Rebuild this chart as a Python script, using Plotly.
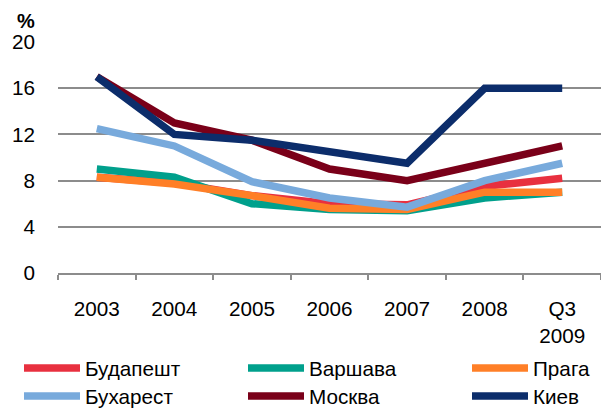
import plotly.graph_objects as go

years = ['2003', '2004', '2005', '2006', '2007', '2008', 'Q3<br>2009']

budapest = [8.3, 7.8, 6.7, 6.0, 5.9, 7.5, 8.2]
warsaw = [9.0, 8.3, 6.0, 5.5, 5.4, 6.5, 7.0]
prague = [8.3, 7.7, 6.7, 5.6, 5.5, 7.0, 7.0]
bucharest = [12.5, 11.0, 7.9, 6.5, 5.7, 8.0, 9.5]
moscow = [17.0, 13.0, 11.5, 9.0, 8.0, 9.5, 11.0]
kiev = [17.0, 12.0, 11.5, 10.5, 9.5, 16.0, 16.0]

series = [
    ('Будапешт', budapest, '#E8303F'),
    ('Варшава', warsaw, '#00A08C'),
    ('Прага', prague, '#FF7F27'),
    ('Бухарест', bucharest, '#78AADC'),
    ('Москва', moscow, '#7A0019'),
    ('Киев', kiev, '#0C2D6B'),
]

W, H = 601, 408
font = dict(family='Liberation Sans, Arial, sans-serif', size=20.7, color='black')

fig = go.Figure()
legends = {}
# one legend per entry so the 3x2 grid can be placed like the original
for i, (name, vals, col) in enumerate(series):
    key = 'legend' if i == 0 else 'legend%d' % (i + 1)
    fig.add_trace(go.Scatter(x=years, y=vals, name=name, mode='lines',
                             line=dict(color=col, width=7.5), legend=key,
                             showlegend=True))
    col_x = [19, 243, 467][i % 3]
    row_y = [368, 396][i // 3]
    legends[key] = dict(orientation='h', xref='container', yref='container',
                        x=col_x / W, y=1 - row_y / H,
                        xanchor='left', yanchor='middle', itemwidth=56,
                        font=font, bgcolor='rgba(0,0,0,0)', itemclick=False)

fig.update_layout(
    width=W, height=H, showlegend=True,
    margin=dict(l=58, r=0, t=42, b=135),
    paper_bgcolor='white', plot_bgcolor='white',
    font=font,
    xaxis=dict(type='category', range=[-0.5, 6.5], tickson='boundaries',
               ticks='outside', ticklen=5, tickcolor='#8C8C8C', tickwidth=2,
               showline=True, linecolor='#8C8C8C', linewidth=2,
               showgrid=False, ticklabelstandoff=16, automargin=False,
               fixedrange=True),
    yaxis=dict(range=[0, 20], tickvals=[0, 4, 8, 12, 16, 20],
               showgrid=True, gridcolor='#8C8C8C', gridwidth=2,
               zeroline=False, showline=False, ticks='',
               ticklabelstandoff=22, automargin=False, fixedrange=True),
    annotations=[dict(text='<b>%</b>', xref='paper', yref='paper',
                      x=(26 - 58) / 543, y=(273 - 21) / 231,
                      xanchor='center', yanchor='middle',
                      showarrow=False, font=dict(font, size=20))],
    **legends,
)

# the page has an 8px body margin by default, drop it so the figure sits at 0,0
fig.write_html('out.html', config={'displayModeBar': False},
               post_script="document.body.style.margin='0';")
